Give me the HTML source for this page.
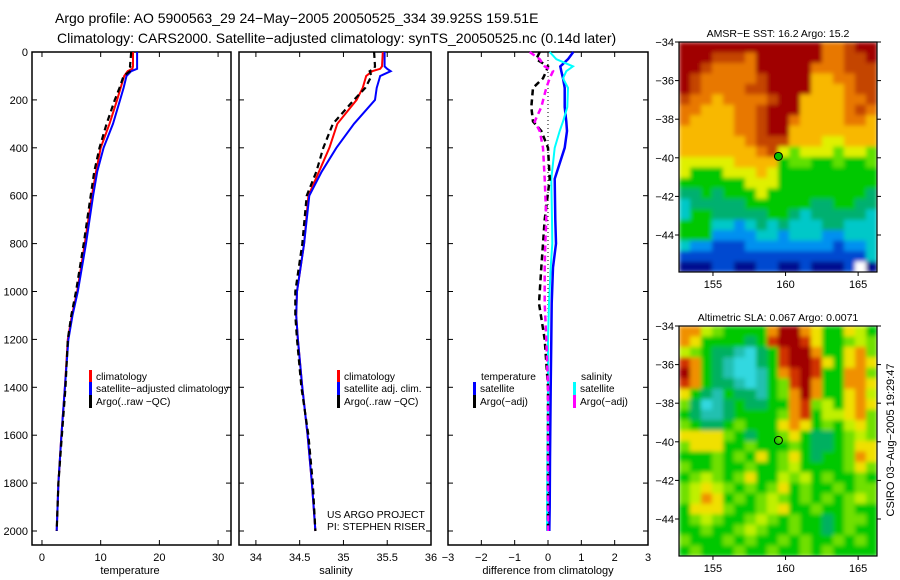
<!DOCTYPE html>
<html><head><meta charset="utf-8"><style>
html,body{margin:0;padding:0;background:#fff;}
svg{display:block;font-family:"Liberation Sans",sans-serif;}
text{fill:#000;}
</style></head><body>
<svg id="fig" width="900" height="580" viewBox="0 0 900 580" xmlns="http://www.w3.org/2000/svg">
<defs>
<filter id="soft" x="0" y="0" width="1" height="1"><feGaussianBlur stdDeviation="2.2" edgeMode="duplicate"/></filter>
<clipPath id="clip1"><rect x="679" y="42" width="198" height="230"/></clipPath>
<clipPath id="clip2"><rect x="679" y="326" width="198" height="230"/></clipPath>
</defs>
<text x="55" y="23" font-size="14">Argo profile: AO 5900563_29 24−May−2005 20050525_334 39.925S 159.51E</text>
<text x="57" y="43" font-size="14">Climatology: CARS2000. Satellite−adjusted climatology: synTS_20050525.nc (0.14d later)</text>
<g id="g"></g>
</svg>
<script>
// ---- data ----
const depthTS = [0,60,70,80,100,150,200,300,400,500,600,800,1000,1100,1200,1400,1600,1800,2000];
const tempClim = [15.5,15.5,15.4,14.6,14.0,13.4,12.8,11.5,10.0,9.2,8.5,7.3,6.0,5.1,4.4,3.9,3.3,2.8,2.5];
const tempSat  = [16.2,16.2,16.2,15.2,14.4,13.9,13.3,12.1,10.5,9.4,8.7,7.5,6.1,5.2,4.5,3.9,3.3,2.8,2.5];
const tempArgo = [15.2,15.0,15.3,15.0,13.9,13.2,12.4,11.0,9.8,8.9,8.3,7.1,5.8,5.0,4.4,4.0,3.4,2.8,2.5];
const salClim = [35.45,35.44,35.42,35.33,35.26,35.22,35.15,34.93,34.84,34.72,34.6,34.55,34.47,34.46,34.48,34.53,34.59,34.64,34.68];
const salSat  = [35.47,35.47,35.5,35.54,35.42,35.38,35.36,35.12,34.92,34.75,34.61,34.55,34.47,34.46,34.48,34.53,34.59,34.64,34.68];
const salArgo = [35.35,35.36,35.35,35.3,35.32,35.25,35.12,34.88,34.77,34.69,34.58,34.53,34.45,34.45,34.47,34.52,34.6,34.65,34.68];
const depthD = [0,30,60,80,110,150,230,290,330,400,530,700,800,900,1050,1200,1400,1700,1900,2000];
const diffTSat  = [0.76,0.6,0.37,0.4,0.45,0.5,0.5,0.55,0.57,0.5,0.2,0.22,0.24,0.15,0.11,0.1,0.08,0.06,0.05,0.04];
const diffSSat  = [0.05,0.25,0.75,0.55,0.45,0.6,0.58,0.45,0.35,0.2,0.1,0.12,0.13,0.08,0.03,0,0,-0.02,-0.03,-0.03];
const diffTArgo = [-0.25,-0.35,0,-0.05,-0.15,-0.45,-0.5,-0.45,-0.2,0,0.05,-0.1,-0.15,-0.2,-0.27,-0.1,0,0,0,0];
const diffSArgo = [-0.55,-0.25,-0.1,0.15,0.05,-0.05,-0.2,-0.4,-0.25,-0.15,-0.1,-0.05,-0.08,-0.1,-0.1,-0.05,0,0,0,0];
const depthTicks = [0,200,400,600,800,1000,1200,1400,1600,1800,2000];
const tempTicks = [0,10,20,30];
const salTicks = [34,34.5,35,35.5,36];
const diffTicks = [-3,-2,-1,0,1,2,3];
const latTicks = [-34,-36,-38,-40,-42,-44];
const lonTicks = [155,160,165];
const argoLon = 159.51, argoLat = -39.925;
const sstRows = [
"RRRRRRRRRRRRRoorRR","RRRrrroRRRRRRoorrR","RRrooooRRRRRooorrr","RrooooorRRRRyyoorr",
"RroooorrRRRRyyyorr","rooyoooorRRyyyyoor","ooyyyoorRRRyyyyoro","oyyyyoorRRoyyyyooy",
"yyyyyoorRRyyyyyyyy","yyyyyyorrryyyYYyyy","yyyyyyyorYgYYYgYYg","YYYYYyyyyGggGGgGGg",
"YGGGYYYyYGGGGGGGGG","GGGGGGYYYGGGGGGGGG","MMGMGGGYGGGGGGGGGM","cMMMMMGGGGGGMMGGMM",
"cGGMMMMMGGMcMMMMMc","GGGccbcMcMcccMMccc","GGGbbbbccbcccbbccc","cbbBBBbbbbbbbbBbbc",
"BBBBBBBBBBBBBBBBBc","NNNBBNNBBNNBNNNBwN"];
const slaRows = [
"ooYgGGGGoRRoyGGyYG","oyGGGGMGrRRryGGgYg","YgGMMcCMGrRRoGGyog","roGMcCCMGrRRryGyoy",
"RoGMcCCcGorRrGGoog","roGMMcCcGgrRoGGooy","yGMcGMMcGgoRoGGyoY","gMCcMGMMGGorgYGyoy",
"GMccMGGGGgorGYYyog","gGMMGgGGGyoyGgGYyg","yyyygGMGGgyGMMGgYg","gyyyGGgGGGgGMMGgyy",
"GGGgGgGyGgyGMGGgoy","gGGgGGgGGgYGGGGgyg","GgYgGgyGGYgYGgGGgG","gYyYgGgGgyGgGGgGgg",
"gYoyGgGgYgGgGgGgYg","GyyygGGgYyGGgGGgGG","GgYgGGgYgGgGGMGggG","GGgGGgYgGGgGGMGgGG",
"gGGGgGgGGgGgGGgGgG","GgGGGgGGgGGgGgGGGG"];
// ---- drawing ----
const NS="http://www.w3.org/2000/svg", G=document.getElementById('g');
function el(tag,attrs,parent){const e=document.createElementNS(NS,tag);for(const k in attrs)e.setAttribute(k,attrs[k]);(parent||G).appendChild(e);return e;}
function txt(s,x,y,size,anchor,parent){const t=el('text',{x:x,y:y,'font-size':size,'text-anchor':anchor||'start'},parent);t.textContent=s;return t;}
const yTop=52, yScale=(531-52)/2000; const yD=d=>yTop+d*yScale;
const panels=[
 {name:'temperature',x0:32,x1:231,lo:-1.7,hi:32.2,ticks:tempTicks,label:'temperature',lx:130},
 {name:'salinity',x0:239,x1:431,lo:33.807,hi:36,ticks:salTicks,label:'salinity',lx:336},
 {name:'difference',x0:448,x1:648,lo:-3,hi:3,ticks:diffTicks,label:'difference from climatology',lx:548}];
panels.forEach((p,i)=>{
 p.sx=v=>p.x0+(v-p.lo)/(p.hi-p.lo)*(p.x1-p.x0);
 const r=el('rect',{x:p.x0,y:yTop,width:p.x1-p.x0,height:545-yTop,fill:'none',stroke:'#000','stroke-width':1.5});
 
 p.ticks.forEach(t=>{const x=p.sx(t);
  el('line',{x1:x,x2:x,y1:545,y2:540,stroke:'#000'});el('line',{x1:x,x2:x,y1:yTop,y2:yTop+5,stroke:'#000'});
  const s=(t<0?'−'+(-t):String(t));
  const tl=txt(s,x,561,11,'middle');});
 depthTicks.forEach(d=>{const y=yD(d);
  el('line',{x1:p.x0,x2:p.x0+5,y1:y,y2:y,stroke:'#000'});el('line',{x1:p.x1,x2:p.x1-5,y1:y,y2:y,stroke:'#000'});
  if(i===0){const tl=txt(String(d),28,y+4,11,'end');}});
 const al=txt(p.label,p.lx,574,11,'middle');
});
function line(p,xs,ds,color,dash,name,w){
 const pts=[];xs.forEach((v,k)=>{if(v!==null)pts.push(p.sx(v).toFixed(1)+','+yD(ds[k]).toFixed(1));});
 const a={points:pts.join(' '),fill:'none',stroke:color,'stroke-width':w||2};if(dash)a['stroke-dasharray']=dash;
 const e=el('polyline',a);}
const [P1,P2,P3]=panels;
line(P1,tempClim,depthTS,'#f00',null,'temperature-climatology-line');
line(P1,tempSat,depthTS,'#00f',null,'temperature-satellite-line');
line(P1,tempArgo,depthTS,'#000','6,4','temperature-argo-line',2.2);
line(P2,salClim,depthTS,'#f00',null,'salinity-climatology-line');
line(P2,salSat,depthTS,'#00f',null,'salinity-satellite-line');
line(P2,salArgo,depthTS,'#000','6,4','salinity-argo-line',2.2);
el('line',{x1:P3.sx(0),x2:P3.sx(0),y1:yTop,y2:yD(2000),stroke:'#000','stroke-dasharray':'1,3'});
line(P3,diffTSat,depthD,'#00f',null,'diff-temperature-satellite-line',2.5);
line(P3,diffSSat,depthD,'#0ff',null,'diff-salinity-satellite-line',2);
line(P3,diffTArgo,depthD,'#000','6,4','diff-temperature-argo-line',2.5);
line(P3,diffSArgo,depthD,'#f0f','6,4','diff-salinity-argo-line',2.5);
function legend(x,y,color,label,name){const r=el('rect',{x:x,y:y-10,width:3,height:13,fill:color});
 
 const t=txt(label,x+7,y,10.2);}
legend(89,380,'#f00','climatology','legend-climatology');
legend(89,392,'#00f','satellite−adjusted climatology','legend-satellite-adjusted');
legend(89,405,'#000','Argo(..raw −QC)','legend-argo-raw');
legend(337,380,'#f00','climatology','legend2-climatology');
legend(337,392,'#00f','satellite adj. clim.','legend2-satellite');
legend(337,405,'#000','Argo(..raw −QC)','legend2-argo');
let t=txt('temperature',481,380,10.2);
t=txt('salinity',581,380,10.2);
legend(473,392,'#00f','satellite','legend3-temp-satellite');
legend(473,405,'#000','Argo(−adj)','legend3-temp-argo');
legend(573,392,'#0ff','satellite','legend3-sal-satellite');
legend(573,405,'#f0f','Argo(−adj)','legend3-sal-argo');
t=txt('US ARGO PROJECT',327,518,10.3);
t=txt('PI: STEPHEN RISER',327,530,10.3);
// maps
const sstPal={R:'#a00000',r:'#c44400',o:'#e87800',y:'#f8b800',Y:'#e0f000',g:'#60e000',G:'#00c800',M:'#00b070',c:'#00c8c8',b:'#0090f0',B:'#0048d0',N:'#001090',w:'#ffffff'};
const slaPal={R:'#a00000',r:'#d03000',o:'#f09000',y:'#f0e000',Y:'#c0f000',g:'#70e000',G:'#00c800',M:'#00b060',c:'#20c0b0',C:'#30d8e0'};
function map(y0,rows,pal,title,filled,name,clip){
 const x0=679,w=198,h=230,lonLo=152.66,lonHi=166.3,latTop=-34,pxLat=19.3;
 const sx=l=>x0+(l-lonLo)/(lonHi-lonLo)*w, sy=l=>y0+(latTop-l)*pxLat;
 const grp=el('g',{});
 const cg=el('g',{'clip-path':'url(#'+clip+')'},grp);
 const cells=el('g',{filter:'url(#soft)'},cg);
 const nr=rows.length,nc=rows[0].length,cw=w/nc,ch=h/nr;
 rows.forEach((row,r)=>{for(let c=0;c<nc;c++){el('rect',{x:(x0+c*cw).toFixed(2),y:(y0+r*ch).toFixed(2),width:(cw+0.6).toFixed(2),height:(ch+0.6).toFixed(2),fill:pal[row[c]]},cells);}});
 el('rect',{x:x0,y:y0,width:w,height:h,fill:'none',stroke:'#000','stroke-width':1.2},grp);
 latTicks.forEach(l=>{const y=sy(l);el('line',{x1:x0-4,x2:x0,y1:y,y2:y,stroke:'#000'},grp);el('line',{x1:x0+w,x2:x0+w+4,y1:y,y2:y,stroke:'#000'},grp);
  txt('−'+(-l),674,y+4,11,'end',grp);});
 lonTicks.forEach(l=>{const x=sx(l);el('line',{x1:x,x2:x,y1:y0+h,y2:y0+h+4,stroke:'#000'},grp);txt(String(l),x,y0+h+16,11,'middle',grp);});
 const tt=txt(title,778,y0-5,10.5,'middle',grp);
 const m=el('circle',{cx:sx(argoLon),cy:sy(argoLat),r:4,fill:filled?'#00c000':'none',stroke:'#000','stroke-width':1},grp);
 }
map(42,sstRows,sstPal,'AMSR−E SST: 16.2 Argo: 15.2',true,'sst-map','clip1');
map(326,slaRows,slaPal,'Altimetric SLA: 0.067 Argo: 0.0071',false,'sla-map','clip2');
t=txt('CSIRO 03−Aug−2005 19:29:47',0,0,11,'middle');
t.setAttribute('transform','translate(894,440) rotate(-90)');

</script>
</body></html>
